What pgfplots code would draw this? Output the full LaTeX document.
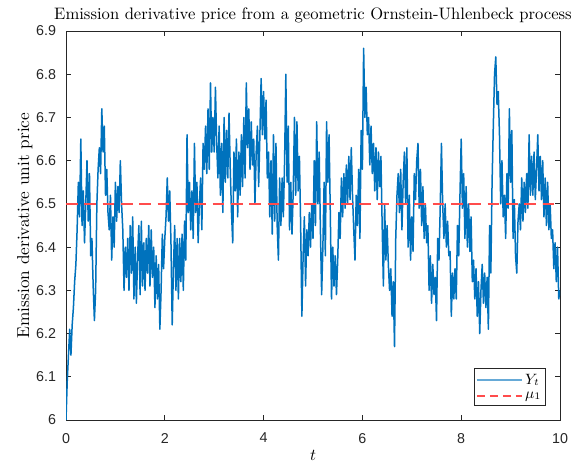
\documentclass[border=0pt]{standalone}
\usepackage{fontspec}
\newfontfamily\ticksans{Liberation Sans}
\usepackage{pgfplots}
\pgfplotsset{compat=1.18}
\definecolor{mblue}{rgb}{0,0.447,0.741}
\definecolor{mred}{rgb}{1,0.3,0.3}
\definecolor{axgray}{rgb}{0.15,0.15,0.15}
\begin{document}
\begin{tikzpicture}
\path[use as bounding box] (-39.6bp,-25.8bp) rectangle (304.8bp,252bp);
\begin{axis}[
  at={(0,0)}, anchor=south west, scale only axis,
  width=296.4bp, height=233.4bp,
  xmin=0, xmax=10, ymin=6, ymax=6.9,
  xtick={0,2,4,6,8,10}, xticklabels={0,2,4,6,8,10},
  ytick={6,6.1,6.2,6.3,6.4,6.5,6.6,6.7,6.8,6.9},
  yticklabels={6,6.1,6.2,6.3,6.4,6.5,6.6,6.7,6.8,6.9},
  axis line style={draw=axgray, line width=0.6bp},
  tick style={draw=axgray, line width=0.6bp},
  major tick length=3bp, tick align=inside,
  ticklabel style={font=\ticksans\fontsize{8.6}{10}\selectfont, text=axgray},
  xticklabel style={yshift=-4.3bp},
  yticklabel style={xshift=-2.5bp},
  legend cell align=left,
  legend style={at={(1,0)}, anchor=south east, xshift=-8.4bp, yshift=8.4bp,
    draw=axgray, line width=0.6bp, font=\fontsize{9}{10}\selectfont,
    inner xsep=1bp, inner ysep=1.5bp, row sep=0bp, nodes={inner sep=1.5bp}},
]
\addplot[draw=mblue, color=mblue, line width=0.9bp, line join=round,
  legend image code/.code={\draw[draw=mblue!60, line width=0.9bp] (0bp,0bp) -- (27bp,0bp);}] coordinates {
(0.000,6.00)(0.025,6.09)(0.050,6.15)(0.075,6.21)(0.100,6.15)(0.125,6.22)(0.150,6.26)(0.175,6.32)
(0.200,6.36)(0.225,6.44)(0.250,6.55)(0.275,6.47)(0.300,6.65)(0.325,6.45)(0.350,6.53)(0.375,6.41)
(0.400,6.50)(0.425,6.60)(0.450,6.46)(0.475,6.57)(0.500,6.38)(0.525,6.42)(0.550,6.31)(0.575,6.23)
(0.600,6.30)(0.625,6.50)(0.650,6.58)(0.675,6.63)(0.700,6.57)(0.725,6.72)(0.750,6.62)(0.775,6.68)
(0.800,6.52)(0.825,6.58)(0.850,6.48)(0.875,6.44)(0.900,6.52)(0.925,6.37)(0.950,6.47)(0.975,6.40)
(1.000,6.55)(1.025,6.46)(1.050,6.54)(1.075,6.48)(1.100,6.60)(1.125,6.50)(1.150,6.44)(1.175,6.30)
(1.200,6.40)(1.225,6.33)(1.250,6.42)(1.275,6.30)(1.300,6.45)(1.325,6.34)(1.350,6.47)(1.375,6.28)
(1.400,6.40)(1.425,6.27)(1.450,6.38)(1.475,6.45)(1.500,6.29)(1.525,6.46)(1.550,6.31)(1.575,6.41)
(1.600,6.30)(1.625,6.42)(1.650,6.34)(1.675,6.45)(1.700,6.31)(1.725,6.44)(1.750,6.33)(1.775,6.40)
(1.800,6.26)(1.825,6.38)(1.850,6.28)(1.875,6.36)(1.900,6.21)(1.925,6.30)(1.950,6.43)(1.975,6.35)
(2.000,6.42)(2.025,6.47)(2.050,6.56)(2.075,6.46)(2.100,6.53)(2.125,6.41)(2.150,6.22)(2.175,6.35)
(2.200,6.45)(2.225,6.30)(2.250,6.42)(2.275,6.28)(2.300,6.42)(2.325,6.32)(2.350,6.43)(2.375,6.30)
(2.400,6.46)(2.425,6.37)(2.450,6.66)(2.475,6.48)(2.500,6.55)(2.525,6.44)(2.550,6.53)(2.575,6.42)
(2.600,6.64)(2.625,6.48)(2.650,6.55)(2.675,6.41)(2.700,6.50)(2.725,6.56)(2.750,6.44)(2.775,6.64)
(2.800,6.58)(2.825,6.68)(2.850,6.57)(2.875,6.72)(2.900,6.58)(2.925,6.78)(2.950,6.62)(2.975,6.70)
(3.000,6.62)(3.025,6.77)(3.050,6.64)(3.075,6.56)(3.100,6.68)(3.125,6.52)(3.150,6.64)(3.175,6.48)
(3.200,6.70)(3.225,6.55)(3.250,6.67)(3.275,6.56)(3.300,6.71)(3.325,6.58)(3.350,6.48)(3.375,6.41)
(3.400,6.62)(3.425,6.53)(3.450,6.65)(3.475,6.47)(3.500,6.62)(3.525,6.52)(3.550,6.66)(3.575,6.54)
(3.600,6.70)(3.625,6.56)(3.650,6.78)(3.675,6.63)(3.700,6.72)(3.725,6.58)(3.750,6.69)(3.775,6.59)
(3.800,6.65)(3.825,6.50)(3.850,6.62)(3.875,6.68)(3.900,6.54)(3.925,6.66)(3.950,6.79)(3.975,6.66)
(4.000,6.76)(4.025,6.65)(4.050,6.74)(4.075,6.56)(4.100,6.62)(4.125,6.47)(4.150,6.60)(4.175,6.43)
(4.200,6.66)(4.225,6.46)(4.250,6.64)(4.275,6.45)(4.300,6.37)(4.325,6.56)(4.350,6.45)(4.375,6.56)
(4.400,6.47)(4.425,6.60)(4.450,6.80)(4.475,6.55)(4.500,6.68)(4.525,6.44)(4.550,6.55)(4.575,6.43)
(4.600,6.53)(4.625,6.70)(4.650,6.52)(4.675,6.69)(4.700,6.53)(4.725,6.61)(4.750,6.45)(4.775,6.24)
(4.800,6.38)(4.825,6.47)(4.850,6.31)(4.875,6.44)(4.900,6.38)(4.925,6.48)(4.950,6.40)(4.975,6.50)
(5.000,6.42)(5.025,6.60)(5.050,6.45)(5.075,6.69)(5.100,6.50)(5.125,6.62)(5.150,6.44)(5.175,6.29)
(5.200,6.40)(5.225,6.55)(5.250,6.38)(5.275,6.69)(5.300,6.55)(5.325,6.66)(5.350,6.48)(5.375,6.28)
(5.400,6.40)(5.425,6.31)(5.450,6.38)(5.475,6.29)(5.500,6.37)(5.525,6.48)(5.550,6.42)(5.575,6.56)
(5.600,6.47)(5.625,6.57)(5.650,6.49)(5.675,6.59)(5.700,6.50)(5.725,6.61)(5.750,6.51)(5.775,6.63)
(5.800,6.52)(5.825,6.44)(5.850,6.37)(5.875,6.52)(5.900,6.45)(5.925,6.58)(5.950,6.42)(5.975,6.67)
(6.000,6.58)(6.025,6.86)(6.050,6.70)(6.075,6.77)(6.100,6.66)(6.125,6.70)(6.150,6.59)(6.175,6.68)
(6.200,6.57)(6.225,6.64)(6.250,6.53)(6.275,6.63)(6.300,6.51)(6.325,6.62)(6.350,6.54)(6.375,6.61)
(6.400,6.45)(6.425,6.31)(6.450,6.50)(6.475,6.37)(6.500,6.45)(6.525,6.36)(6.550,6.30)(6.575,6.35)
(6.600,6.24)(6.625,6.32)(6.650,6.17)(6.675,6.42)(6.700,6.52)(6.725,6.57)(6.750,6.48)(6.775,6.58)
(6.800,6.44)(6.825,6.55)(6.850,6.62)(6.875,6.50)(6.900,6.63)(6.925,6.40)(6.950,6.52)(6.975,6.37)
(7.000,6.47)(7.025,6.39)(7.050,6.57)(7.075,6.51)(7.100,6.60)(7.125,6.64)(7.150,6.49)(7.175,6.58)
(7.200,6.45)(7.225,6.54)(7.250,6.42)(7.275,6.50)(7.300,6.41)(7.325,6.45)(7.350,6.30)(7.375,6.38)
(7.400,6.27)(7.425,6.36)(7.450,6.29)(7.475,6.33)(7.500,6.23)(7.525,6.42)(7.550,6.37)(7.575,6.49)
(7.600,6.64)(7.625,6.50)(7.650,6.42)(7.675,6.50)(7.700,6.40)(7.725,6.46)(7.750,6.38)(7.775,6.39)
(7.800,6.24)(7.825,6.34)(7.850,6.28)(7.875,6.35)(7.900,6.28)(7.925,6.45)(7.950,6.38)(7.975,6.52)
(8.000,6.65)(8.025,6.49)(8.050,6.57)(8.075,6.42)(8.100,6.54)(8.125,6.40)(8.150,6.50)(8.175,6.39)
(8.200,6.47)(8.225,6.32)(8.250,6.37)(8.275,6.28)(8.300,6.35)(8.325,6.24)(8.350,6.32)(8.375,6.20)
(8.400,6.30)(8.425,6.36)(8.450,6.27)(8.475,6.34)(8.500,6.26)(8.525,6.33)(8.550,6.21)(8.575,6.45)
(8.600,6.34)(8.625,6.55)(8.650,6.68)(8.675,6.80)(8.700,6.84)(8.725,6.73)(8.750,6.76)(8.775,6.66)
(8.800,6.50)(8.825,6.60)(8.850,6.47)(8.875,6.52)(8.900,6.42)(8.925,6.57)(8.950,6.49)(8.975,6.72)
(9.000,6.55)(9.025,6.67)(9.050,6.42)(9.075,6.51)(9.100,6.38)(9.125,6.34)(9.150,6.46)(9.175,6.50)
(9.200,6.44)(9.225,6.56)(9.250,6.46)(9.275,6.55)(9.300,6.48)(9.325,6.57)(9.350,6.49)(9.375,6.66)
(9.400,6.52)(9.425,6.61)(9.450,6.52)(9.475,6.62)(9.500,6.51)(9.525,6.58)(9.550,6.66)(9.575,6.53)
(9.600,6.61)(9.625,6.51)(9.650,6.60)(9.675,6.47)(9.700,6.56)(9.725,6.45)(9.750,6.55)(9.775,6.44)
(9.800,6.50)(9.825,6.42)(9.850,6.44)(9.875,6.35)(9.900,6.41)(9.925,6.32)(9.950,6.40)(9.975,6.28)
(10.000,6.30)
};
\addlegendentry{$Y_t$}
\addplot[draw=mred, color=mred, line width=0.8bp, dash pattern=on 7bp off 4bp,
  legend image code/.code={\draw[draw=mred, line width=0.8bp, dash pattern=on 4.8bp off 3bp] (0bp,0bp) -- (27bp,0bp);}] coordinates {(0,6.5) (10,6.5)};
\addlegendentry{$\mu_1$}
\end{axis}
\node[anchor=base] at (148.2bp,240bp) {Emission derivative price from a geometric Ornstein-Uhlenbeck process};
\node[rotate=90, anchor=base, font=\fontsize{10.4}{12}\selectfont] at (-22.2bp,116.7bp) {Emission derivative unit price};
\node[anchor=base] at (148.2bp,-24bp) {$t$};
\end{tikzpicture}
\end{document}
